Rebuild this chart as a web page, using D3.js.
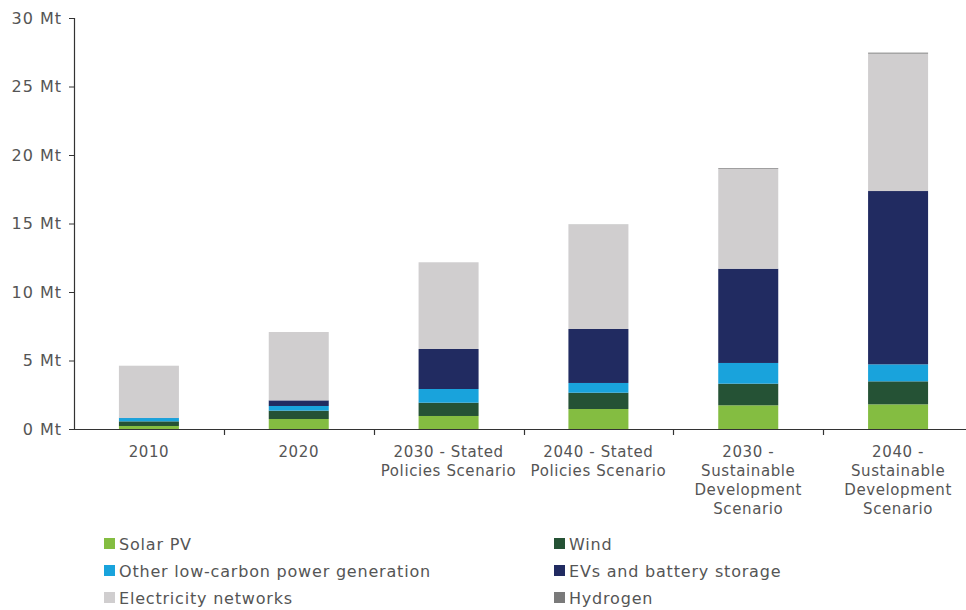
<!DOCTYPE html>
<html><head><meta charset="utf-8">
<script src="https://cdn.jsdelivr.net/npm/d3@7"></script>
<style>
body{margin:0;background:#fff;}
text{font-family:"DejaVu Sans","Open Sans",sans-serif;fill:#555;}
</style></head><body>
<svg id="c" width="966" height="610"></svg>
<script>
const categories = [
  ["2010"],
  ["2020"],
  ["2030 - Stated","Policies Scenario"],
  ["2040 - Stated","Policies Scenario"],
  ["2030 -","Sustainable","Development","Scenario"],
  ["2040 -","Sustainable","Development","Scenario"]
];
const seriesNames = ["Solar PV","Wind","Other low-carbon power generation","EVs and battery storage","Electricity networks","Hydrogen"];
const solarPV    = [0.22, 0.73, 0.95, 1.46, 1.73, 1.80];
const wind       = [0.34, 0.61, 0.97, 1.19, 1.58, 1.68];
const otherLow   = [0.24, 0.34, 1.00, 0.71, 1.51, 1.24];
const evsBattery = [0.02, 0.41, 2.92, 3.94, 6.88, 12.65];
const networks   = [3.80, 4.99, 6.33, 7.60, 7.30, 10.03];
const hydrogen   = [0.00, 0.00, 0.00, 0.02, 0.05, 0.07];
const yTicks = [0,5,10,15,20,25,30];
const colors = ["#84bd41","#255235","#19a3dc","#212b61","#d0cecf","#7a7a7a"];

const seriesData = [solarPV, wind, otherLow, evsBattery, networks, hydrogen];
const keys = seriesNames;
const rows = categories.map((c,i)=>{const r={cat:c.join(" ")}; keys.forEach((k,j)=>r[k]=seriesData[j][i]); return r;});
const stack = d3.stack().keys(keys)(rows);

const svg = d3.select("#c");
const x0 = 74, x1 = 973, yTop = 18, yBot = 429;
const xb = d3.scaleBand().domain(rows.map(r=>r.cat)).range([x0,x1]);
const y = d3.scaleLinear().domain([0,30]).range([yBot,yTop]);

// bars
const g = svg.append("g");
stack.forEach((s,j)=>{
  g.selectAll(null).data(s).enter().append("rect")
    .attr("x",(d,i)=>xb(rows[i].cat)+xb.bandwidth()/2-30)
    .attr("width",60)
    .attr("y",d=>y(d[1]))
    .attr("height",d=>Math.max(0,y(d[0])-y(d[1])))
    .attr("fill",colors[j]);
});

// y axis
const ya = svg.append("g").attr("transform",`translate(${x0},0)`)
  .call(d3.axisLeft(y).tickValues(yTicks).tickFormat(d=>d+" Mt").tickSize(5).tickPadding(7));
ya.select(".domain").attr("stroke","#333").attr("stroke-width",1.2);
ya.selectAll(".tick line").attr("stroke","#333");
ya.selectAll(".tick text").style("font-size","16px").style("letter-spacing","1px").attr("fill","#555");

// x axis line and ticks
svg.append("line").attr("x1",x0).attr("x2",966).attr("y1",yBot+0.5).attr("y2",yBot+0.5).attr("stroke","#333").attr("stroke-width",1.2);
const bounds = rows.map(r=>xb(r.cat)).slice(1);
svg.selectAll(null).data(bounds).enter().append("line")
  .attr("x1",d=>Math.round(d)+0.5).attr("x2",d=>Math.round(d)+0.5)
  .attr("y1",yBot).attr("y2",yBot+6).attr("stroke","#333").attr("stroke-width",1.2);

// x labels
categories.forEach((c,i)=>{
  const cx = xb(rows[i].cat)+xb.bandwidth()/2;
  c.forEach((line,k)=>svg.append("text").attr("x",cx).attr("y",457+k*19)
    .attr("text-anchor","middle").style("font-size","15px").style("letter-spacing","0.6px").text(line));
});

// legend
const legX = [104,554], legY=[544,571,598];
seriesNames.forEach((n,i)=>{
  const lx = legX[i%2], ly = legY[Math.floor(i/2)];
  svg.append("rect").attr("x",lx).attr("y",ly-6).attr("width",11).attr("height",11).attr("fill",colors[i]);
  svg.append("text").attr("x",lx+15).attr("y",ly+6).style("font-size","16px").style("letter-spacing","0.8px").text(n);
});
</script></body></html>
